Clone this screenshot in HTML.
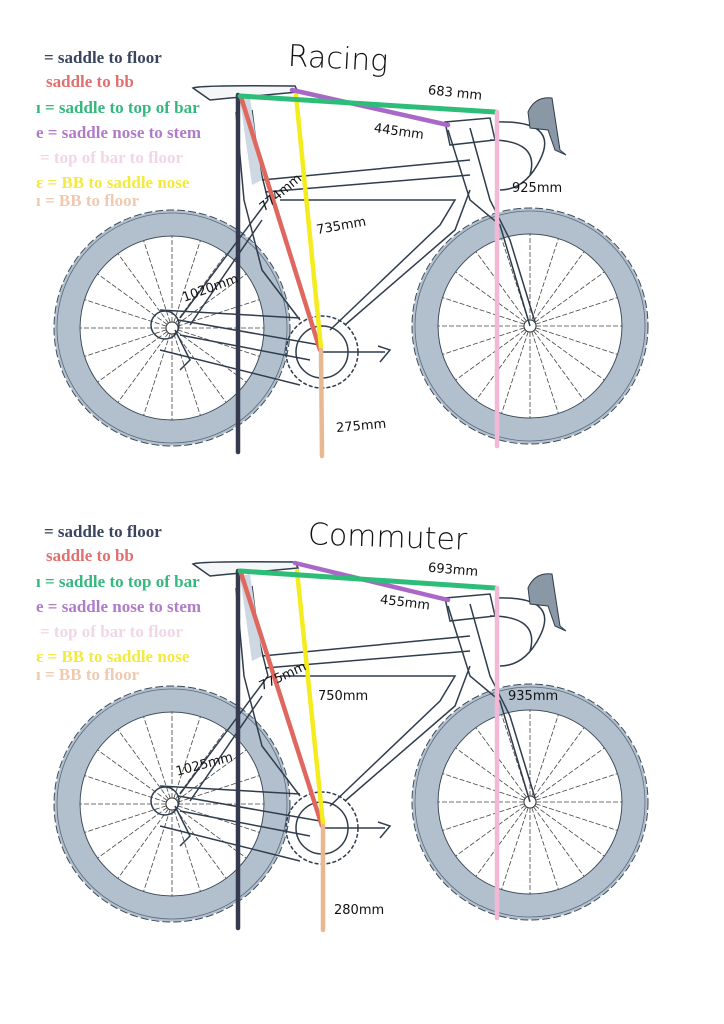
<!DOCTYPE html>
<html><head><meta charset="utf-8">
<style>
html,body{margin:0;padding:0;background:#fff;}
svg{display:block;}
.lg{font-family:"Liberation Serif","DejaVu Serif",serif;font-weight:bold;font-size:17px;}
.hw{font-family:"DejaVu Sans","Liberation Sans",sans-serif;font-size:13px;fill:#111;}
.ttl{font-family:"DejaVu Sans","Liberation Sans",sans-serif;font-size:30px;fill:#111;font-weight:200;}
</style></head>
<body>
<svg width="724" height="1024" viewBox="0 0 724 1024" xmlns="http://www.w3.org/2000/svg">
<defs>
  <line id="sp" x1="0" y1="6" x2="0" y2="92" stroke="#444" stroke-width="0.8" stroke-dasharray="5,2"/>
  <g id="spokes">
    <use href="#sp" transform="rotate(0)"/><use href="#sp" transform="rotate(18)"/><use href="#sp" transform="rotate(36)"/>
    <use href="#sp" transform="rotate(54)"/><use href="#sp" transform="rotate(72)"/><use href="#sp" transform="rotate(90)"/>
    <use href="#sp" transform="rotate(108)"/><use href="#sp" transform="rotate(126)"/><use href="#sp" transform="rotate(144)"/>
    <use href="#sp" transform="rotate(162)"/><use href="#sp" transform="rotate(180)"/><use href="#sp" transform="rotate(198)"/>
    <use href="#sp" transform="rotate(216)"/><use href="#sp" transform="rotate(234)"/><use href="#sp" transform="rotate(252)"/>
    <use href="#sp" transform="rotate(270)"/><use href="#sp" transform="rotate(288)"/><use href="#sp" transform="rotate(306)"/>
    <use href="#sp" transform="rotate(324)"/><use href="#sp" transform="rotate(342)"/>
  </g>
  <g id="wheel">
    <circle r="105" fill="none" stroke="#b2c0ce" stroke-width="25"/>
    <circle r="118" fill="none" stroke="#3a4a5a" stroke-width="1" stroke-dasharray="8,3"/>
    <circle r="115" fill="none" stroke="#5a6a7a" stroke-width="0.8"/>
    <circle r="92" fill="none" stroke="#3a4a5a" stroke-width="1"/>
    <use href="#spokes"/>
    <circle r="6" fill="#fff" stroke="#333" stroke-width="1"/>
  </g>
  <g id="bike">
    <use href="#wheel" transform="translate(172,328)"/>
    <use href="#wheel" transform="translate(530,326)"/>
    <g fill="none" stroke="#2f3d4d" stroke-width="1.5">
      <path d="M236,112 L244,200 L262,270 L300,320"/>
      <path d="M252,110 L258,160 L268,200"/>
      <path d="M262,180 L470,160"/>
      <path d="M265,192 L470,175"/>
      <path d="M280,200 L455,200 L440,225 L330,330"/>
      <path d="M470,190 L455,230 L345,325"/>
      <path d="M448,130 L470,200 L500,225 L530,326"/>
      <path d="M470,128 L490,200 L510,240 L535,322"/>
      <path d="M268,200 L180,318"/>
      <path d="M262,220 L190,325"/>
      <path d="M178,320 L320,345"/>
      <path d="M180,335 L310,360"/>
      <path d="M160,310 L300,318"/>
      <path d="M160,350 L300,385"/>
      <circle cx="322" cy="352" r="36" stroke-dasharray="4,2"/>
      <circle cx="322" cy="352" r="26"/>
      <path d="M322,352 L385,352 M378,346 L390,350 L380,362"/>
      <circle cx="165" cy="325" r="14"/>
      <path d="M175,330 L190,360 L180,370"/>
      <path d="M445,122 L490,118 L495,140 L450,145 Z"/>
      <path d="M495,122 Q560,120 540,160 Q525,190 500,190"/>
      <path d="M490,140 Q540,140 530,175"/>
      <path d="M193,88 Q200,85 295,86 L298,92 L255,96 L230,98 L210,100 Z" fill="#f4f6f8"/>
      <path d="M240,98 L248,120"/>
    </g>
    <path d="M528,112 Q535,96 552,98 L560,150 L566,155 L555,150 L548,130 L530,128 Z" fill="#8a98a6" stroke="#2f3d4d" stroke-width="1"/>
    <path d="M240,100 L250,98 L262,180 L252,185 Z" fill="#cdd8e2"/>
  </g>
</defs>

<use href="#bike"/>
<g stroke-linecap="round">
  <line x1="238" y1="95" x2="238" y2="452" stroke="#353a4e" stroke-width="4.5"/>
  <line x1="241" y1="97" x2="320" y2="350" stroke="#e0675e" stroke-width="4.5"/>
  <line x1="296" y1="95" x2="321" y2="348" stroke="#f4ec1c" stroke-width="4.5"/>
  <line x1="321" y1="350" x2="322" y2="456" stroke="#e8b890" stroke-width="4.5"/>
  <line x1="292" y1="90" x2="448" y2="125" stroke="#a968c8" stroke-width="4.5"/>
  <line x1="240" y1="96" x2="495" y2="112" stroke="#2ebd78" stroke-width="5"/>
  <line x1="497" y1="112" x2="497" y2="446" stroke="#f2b8d6" stroke-width="4.5"/>
</g>
<text class="ttl" x="288" y="68" transform="rotate(3 330 55)">Racing</text>
<text class="hw" x="428" y="97" transform="rotate(6 455 92)" font-size="15">683 mm</text>
<text class="hw" x="374" y="135" transform="rotate(8 395 130)">445mm</text>
<text class="hw" x="512" y="192" font-size="14">925mm</text>
<text class="hw" x="256" y="206" transform="rotate(-40 268 198)">774mm</text>
<text class="hw" x="316" y="230" transform="rotate(-10 340 225)">735mm</text>
<text class="hw" x="180" y="292" transform="rotate(-20 210 285)">1020mm</text>
<text class="hw" x="336" y="430" transform="rotate(-5 360 425)">275mm</text>

<text class="lg" x="44" y="63" fill="#3b4560">= saddle to floor</text>
<text class="lg" x="46" y="87" fill="#e07070">saddle to bb</text>
<text class="lg" x="36" y="113" fill="#35b87e">ı = saddle to top of bar</text>
<text class="lg" x="36" y="138" fill="#b07cc8">e = saddle nose to stem</text>
<text class="lg" x="40" y="163" fill="#f0d6e6">= top of bar to floor</text>
<text class="lg" x="36" y="188" fill="#f2ea40">ɛ = BB to saddle nose</text>
<text class="lg" x="36" y="206" fill="#efcab0">ı = BB to floor</text>

<use href="#bike" transform="translate(0,476)"/>
<g stroke-linecap="round">
  <line x1="238" y1="571" x2="238" y2="928" stroke="#353a4e" stroke-width="4.5"/>
  <line x1="241" y1="573" x2="322" y2="826" stroke="#e0675e" stroke-width="4.5"/>
  <line x1="297" y1="571" x2="323" y2="824" stroke="#f4ec1c" stroke-width="4.5"/>
  <line x1="323" y1="826" x2="323" y2="930" stroke="#e8b890" stroke-width="4.5"/>
  <line x1="295" y1="563" x2="448" y2="600" stroke="#a968c8" stroke-width="4.5"/>
  <line x1="240" y1="571" x2="495" y2="588" stroke="#2ebd78" stroke-width="5"/>
  <line x1="497" y1="588" x2="497" y2="918" stroke="#f2b8d6" stroke-width="4.5"/>
</g>
<text class="ttl" x="308" y="546" font-size="28" transform="rotate(2 360 535)">Commuter</text>
<text class="hw" x="428" y="574" transform="rotate(5 455 570)" font-size="14">693mm</text>
<text class="hw" x="380" y="606" transform="rotate(7 400 602)">455mm</text>
<text class="hw" x="508" y="700" font-size="15">935mm</text>
<text class="hw" x="258" y="686" transform="rotate(-25 270 680)">775mm</text>
<text class="hw" x="318" y="700" font-size="14">750mm</text>
<text class="hw" x="174" y="768" transform="rotate(-15 205 760)" font-size="14">1025mm</text>
<text class="hw" x="334" y="914" font-size="14">280mm</text>

<text class="lg" x="44" y="537" fill="#3b4560">= saddle to floor</text>
<text class="lg" x="46" y="561" fill="#e07070">saddle to bb</text>
<text class="lg" x="36" y="587" fill="#35b87e">ı = saddle to top of bar</text>
<text class="lg" x="36" y="612" fill="#b07cc8">e = saddle nose to stem</text>
<text class="lg" x="40" y="637" fill="#f0d6e6">= top of bar to floor</text>
<text class="lg" x="36" y="662" fill="#f2ea40">ɛ = BB to saddle nose</text>
<text class="lg" x="36" y="680" fill="#efcab0">ı = BB to floor</text>
</svg>
</body></html>
